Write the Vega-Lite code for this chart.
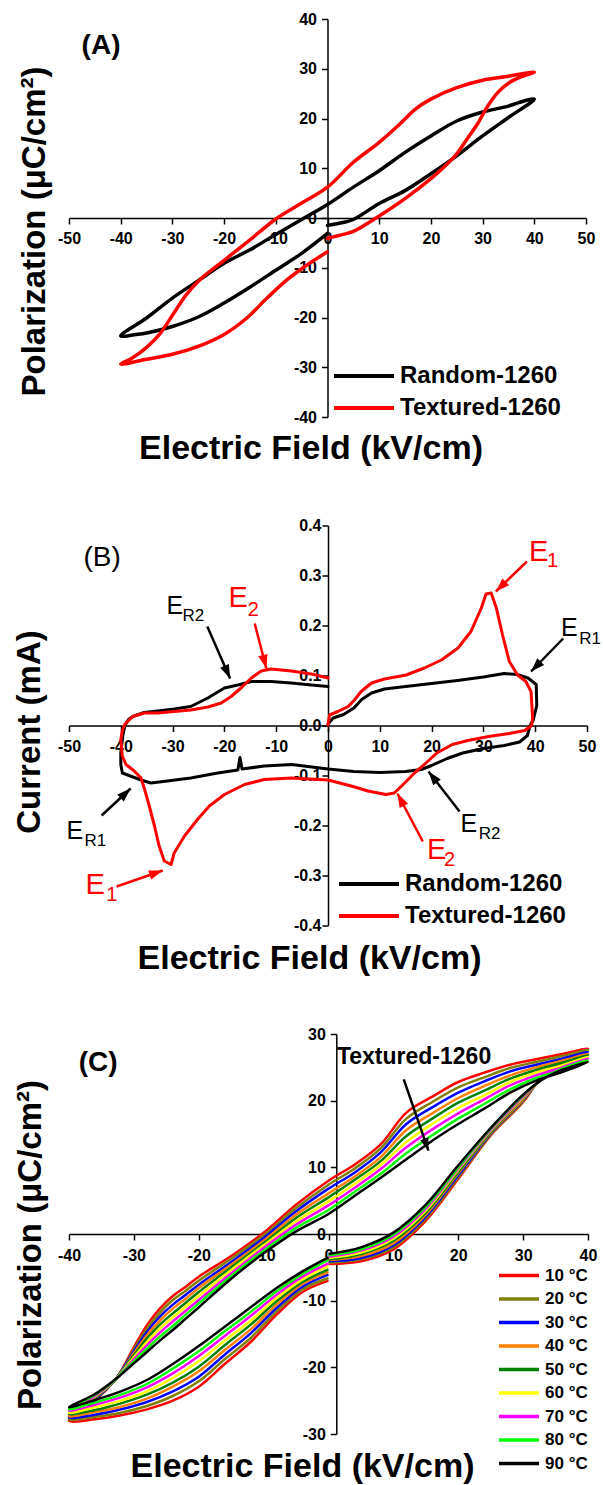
{
"$schema": "https://vega.github.io/schema/vega-lite/v6.json",
"background": "white",
"padding": {"left": 13, "top": 11, "right": 0, "bottom": 0},
"bounds": "flush",
"spacing": 108.5,
"resolve": {"scale": {"color": "independent"}},
"config": {
 "view": {"stroke": null},
 "font": "Liberation Sans",
 "axis": {"domainColor": "black", "domainWidth": 1.5, "tickColor": "black", "tickWidth": 1.5, "labelColor": "black", "labelFont": "Liberation Sans", "labelFontWeight": "bold", "labelFontSize": 16, "titleFont": "Liberation Sans", "titleFontWeight": "bold", "titleFontSize": 34, "titleColor": "black", "grid": false, "labelOverlap": false, "labelFlush": false},
 "legend": {"labelFont": "Liberation Sans", "labelColor": "black", "labelFontWeight": "bold", "labelLimit": 400}
},
"datasets": {
 "pA": [
  {"s":"Random-1260","i":1,"x":0,"y":-1.5},{"s":"Random-1260","i":2,"x":3,"y":-0.9},{"s":"Random-1260","i":3,"x":5,"y":-0.3},{"s":"Random-1260","i":4,"x":10,"y":2.9},{"s":"Random-1260","i":5,"x":15,"y":5.5},{"s":"Random-1260","i":6,"x":20,"y":8.9},{"s":"Random-1260","i":7,"x":25,"y":12.5},{"s":"Random-1260","i":8,"x":30,"y":16.5},{"s":"Random-1260","i":9,"x":35,"y":20.2},{"s":"Random-1260","i":10,"x":40,"y":23.9},{"s":"Random-1260","i":11,"x":37,"y":23.2},{"s":"Random-1260","i":12,"x":35,"y":22.5},{"s":"Random-1260","i":13,"x":30,"y":21.3},{"s":"Random-1260","i":14,"x":25,"y":19.5},{"s":"Random-1260","i":15,"x":20,"y":16.5},{"s":"Random-1260","i":16,"x":15,"y":13.2},{"s":"Random-1260","i":17,"x":10,"y":9.5},{"s":"Random-1260","i":18,"x":5,"y":6.2},{"s":"Random-1260","i":19,"x":0,"y":2.7},{"s":"Random-1260","i":20,"x":-5,"y":-0.3},{"s":"Random-1260","i":21,"x":-10,"y":-3.3},{"s":"Random-1260","i":22,"x":-15,"y":-6.4},{"s":"Random-1260","i":23,"x":-20,"y":-9.1},{"s":"Random-1260","i":24,"x":-25,"y":-12.6},{"s":"Random-1260","i":25,"x":-30,"y":-16.1},{"s":"Random-1260","i":26,"x":-35,"y":-20.1},{"s":"Random-1260","i":27,"x":-40,"y":-23.7},{"s":"Random-1260","i":28,"x":-37,"y":-23.4},{"s":"Random-1260","i":29,"x":-35,"y":-23.1},{"s":"Random-1260","i":30,"x":-30,"y":-21.8},{"s":"Random-1260","i":31,"x":-25,"y":-19.9},{"s":"Random-1260","i":32,"x":-20,"y":-17.1},{"s":"Random-1260","i":33,"x":-15,"y":-13.9},{"s":"Random-1260","i":34,"x":-10,"y":-10.5},{"s":"Random-1260","i":35,"x":-5,"y":-7.1},{"s":"Random-1260","i":36,"x":0,"y":-3.1},
  {"s":"Textured-1260","i":1,"x":0,"y":-4.1},{"s":"Textured-1260","i":2,"x":3,"y":-3.3},{"s":"Textured-1260","i":3,"x":5,"y":-2.7},{"s":"Textured-1260","i":4,"x":10,"y":0.4},{"s":"Textured-1260","i":5,"x":15,"y":3.9},{"s":"Textured-1260","i":6,"x":20,"y":7.9},{"s":"Textured-1260","i":7,"x":23,"y":10.7},{"s":"Textured-1260","i":8,"x":25,"y":12.9},{"s":"Textured-1260","i":9,"x":27,"y":15.9},{"s":"Textured-1260","i":10,"x":29,"y":18.9},{"s":"Textured-1260","i":11,"x":31,"y":22.5},{"s":"Textured-1260","i":12,"x":33,"y":25.3},{"s":"Textured-1260","i":13,"x":35,"y":27.1},{"s":"Textured-1260","i":14,"x":37.5,"y":28.4},{"s":"Textured-1260","i":15,"x":40,"y":29.3},{"s":"Textured-1260","i":16,"x":37,"y":28.9},{"s":"Textured-1260","i":17,"x":35,"y":28.5},{"s":"Textured-1260","i":18,"x":30,"y":27.7},{"s":"Textured-1260","i":19,"x":25,"y":26.2},{"s":"Textured-1260","i":20,"x":20,"y":23.9},{"s":"Textured-1260","i":21,"x":17,"y":21.9},{"s":"Textured-1260","i":22,"x":14,"y":18.9},{"s":"Textured-1260","i":23,"x":10,"y":15.2},{"s":"Textured-1260","i":24,"x":5,"y":11.2},{"s":"Textured-1260","i":25,"x":0,"y":6.2},{"s":"Textured-1260","i":26,"x":-5,"y":3.0},{"s":"Textured-1260","i":27,"x":-10,"y":-0.2},{"s":"Textured-1260","i":28,"x":-15,"y":-4.4},{"s":"Textured-1260","i":29,"x":-20,"y":-8.5},{"s":"Textured-1260","i":30,"x":-24.7,"y":-12.4},{"s":"Textured-1260","i":31,"x":-27.3,"y":-15.4},{"s":"Textured-1260","i":32,"x":-29.9,"y":-19.4},{"s":"Textured-1260","i":33,"x":-32.5,"y":-23.4},{"s":"Textured-1260","i":34,"x":-35.1,"y":-26.1},{"s":"Textured-1260","i":35,"x":-37.7,"y":-28.1},{"s":"Textured-1260","i":36,"x":-40,"y":-29.4},{"s":"Textured-1260","i":37,"x":-35,"y":-28.4},{"s":"Textured-1260","i":38,"x":-30,"y":-27.4},{"s":"Textured-1260","i":39,"x":-25,"y":-25.8},{"s":"Textured-1260","i":40,"x":-20,"y":-23.4},{"s":"Textured-1260","i":41,"x":-15.6,"y":-20.1},{"s":"Textured-1260","i":42,"x":-11.7,"y":-16.1},{"s":"Textured-1260","i":43,"x":-7.8,"y":-12.4},{"s":"Textured-1260","i":44,"x":-3.9,"y":-9.4},{"s":"Textured-1260","i":45,"x":0,"y":-6.8}
 ],
 "pB": [
  {"s":"Random-1260","i":1,"x":0,"y":0.003},{"s":"Random-1260","i":2,"x":1,"y":0.015},{"s":"Random-1260","i":3,"x":3,"y":0.022},{"s":"Random-1260","i":4,"x":5,"y":0.035},{"s":"Random-1260","i":5,"x":6.5,"y":0.052},{"s":"Random-1260","i":6,"x":8.4,"y":0.065},{"s":"Random-1260","i":7,"x":10.9,"y":0.073},{"s":"Random-1260","i":8,"x":15,"y":0.078},{"s":"Random-1260","i":9,"x":20,"y":0.084},{"s":"Random-1260","i":10,"x":25,"y":0.09},{"s":"Random-1260","i":11,"x":30,"y":0.097},{"s":"Random-1260","i":12,"x":34,"y":0.104},{"s":"Random-1260","i":13,"x":36.5,"y":0.102},{"s":"Random-1260","i":14,"x":38.6,"y":0.095},{"s":"Random-1260","i":15,"x":40.2,"y":0.082},{"s":"Random-1260","i":16,"x":40.3,"y":0.04},{"s":"Random-1260","i":17,"x":39.6,"y":0.01},{"s":"Random-1260","i":18,"x":39,"y":0},{"s":"Random-1260","i":19,"x":38.5,"y":-0.02},{"s":"Random-1260","i":20,"x":37,"y":-0.033},{"s":"Random-1260","i":21,"x":34,"y":-0.04},{"s":"Random-1260","i":22,"x":30,"y":-0.046},{"s":"Random-1260","i":23,"x":26,"y":-0.055},{"s":"Random-1260","i":24,"x":23,"y":-0.066},{"s":"Random-1260","i":25,"x":20,"y":-0.08},{"s":"Random-1260","i":26,"x":18,"y":-0.088},{"s":"Random-1260","i":27,"x":15,"y":-0.092},{"s":"Random-1260","i":28,"x":10,"y":-0.094},{"s":"Random-1260","i":29,"x":5,"y":-0.092},{"s":"Random-1260","i":30,"x":0,"y":-0.087},{"s":"Random-1260","i":31,"x":-7,"y":-0.078},{"s":"Random-1260","i":32,"x":-12.3,"y":-0.081},{"s":"Random-1260","i":33,"x":-16.6,"y":-0.087},{"s":"Random-1260","i":34,"x":-17,"y":-0.064},{"s":"Random-1260","i":35,"x":-17.4,"y":-0.089},{"s":"Random-1260","i":36,"x":-21.3,"y":-0.095},{"s":"Random-1260","i":37,"x":-26.5,"y":-0.105},{"s":"Random-1260","i":38,"x":-31,"y":-0.111},{"s":"Random-1260","i":39,"x":-34.2,"y":-0.115},{"s":"Random-1260","i":40,"x":-36.1,"y":-0.109},{"s":"Random-1260","i":41,"x":-38.4,"y":-0.1},{"s":"Random-1260","i":42,"x":-39.7,"y":-0.095},{"s":"Random-1260","i":43,"x":-40,"y":-0.078},{"s":"Random-1260","i":44,"x":-40,"y":-0.055},{"s":"Random-1260","i":45,"x":-39.6,"y":-0.02},{"s":"Random-1260","i":46,"x":-39.2,"y":0},{"s":"Random-1260","i":47,"x":-38.5,"y":0.012},{"s":"Random-1260","i":48,"x":-37.7,"y":0.018},{"s":"Random-1260","i":49,"x":-35.5,"y":0.026},{"s":"Random-1260","i":50,"x":-32.9,"y":0.029},{"s":"Random-1260","i":51,"x":-29.7,"y":0.033},{"s":"Random-1260","i":52,"x":-26.5,"y":0.038},{"s":"Random-1260","i":53,"x":-23.2,"y":0.055},{"s":"Random-1260","i":54,"x":-20,"y":0.075},{"s":"Random-1260","i":55,"x":-17.4,"y":0.081},{"s":"Random-1260","i":56,"x":-14.8,"y":0.088},{"s":"Random-1260","i":57,"x":-11,"y":0.088},{"s":"Random-1260","i":58,"x":-7.1,"y":0.085},{"s":"Random-1260","i":59,"x":-3.2,"y":0.081},{"s":"Random-1260","i":60,"x":0,"y":0.078},
  {"s":"Textured-1260","i":1,"x":0,"y":0.001},{"s":"Textured-1260","i":2,"x":0.3,"y":0.021},{"s":"Textured-1260","i":3,"x":1.9,"y":0.028},{"s":"Textured-1260","i":4,"x":3.9,"y":0.038},{"s":"Textured-1260","i":5,"x":5.1,"y":0.051},{"s":"Textured-1260","i":6,"x":6.4,"y":0.068},{"s":"Textured-1260","i":7,"x":8.4,"y":0.085},{"s":"Textured-1260","i":8,"x":10.9,"y":0.093},{"s":"Textured-1260","i":9,"x":15.1,"y":0.101},{"s":"Textured-1260","i":10,"x":18.6,"y":0.115},{"s":"Textured-1260","i":11,"x":21.9,"y":0.131},{"s":"Textured-1260","i":12,"x":25.1,"y":0.155},{"s":"Textured-1260","i":13,"x":27.6,"y":0.188},{"s":"Textured-1260","i":14,"x":29.6,"y":0.235},{"s":"Textured-1260","i":15,"x":30.5,"y":0.263},{"s":"Textured-1260","i":16,"x":31.5,"y":0.265},{"s":"Textured-1260","i":17,"x":32.5,"y":0.235},{"s":"Textured-1260","i":18,"x":33.7,"y":0.181},{"s":"Textured-1260","i":19,"x":35,"y":0.128},{"s":"Textured-1260","i":20,"x":36.6,"y":0.101},{"s":"Textured-1260","i":21,"x":38.2,"y":0.088},{"s":"Textured-1260","i":22,"x":39.2,"y":0.068},{"s":"Textured-1260","i":23,"x":39.5,"y":0.015},{"s":"Textured-1260","i":24,"x":39.3,"y":0},{"s":"Textured-1260","i":25,"x":38,"y":-0.01},{"s":"Textured-1260","i":26,"x":35,"y":-0.016},{"s":"Textured-1260","i":27,"x":31,"y":-0.022},{"s":"Textured-1260","i":28,"x":27,"y":-0.03},{"s":"Textured-1260","i":29,"x":24,"y":-0.038},{"s":"Textured-1260","i":30,"x":21,"y":-0.055},{"s":"Textured-1260","i":31,"x":18.6,"y":-0.078},{"s":"Textured-1260","i":32,"x":16.7,"y":-0.095},{"s":"Textured-1260","i":33,"x":14.8,"y":-0.115},{"s":"Textured-1260","i":34,"x":12.8,"y":-0.135},{"s":"Textured-1260","i":35,"x":11.2,"y":-0.138},{"s":"Textured-1260","i":36,"x":7.7,"y":-0.131},{"s":"Textured-1260","i":37,"x":4.5,"y":-0.121},{"s":"Textured-1260","i":38,"x":0,"y":-0.109},{"s":"Textured-1260","i":39,"x":-7.1,"y":-0.105},{"s":"Textured-1260","i":40,"x":-12.3,"y":-0.108},{"s":"Textured-1260","i":41,"x":-16.1,"y":-0.118},{"s":"Textured-1260","i":42,"x":-20,"y":-0.138},{"s":"Textured-1260","i":43,"x":-22.9,"y":-0.161},{"s":"Textured-1260","i":44,"x":-25.2,"y":-0.188},{"s":"Textured-1260","i":45,"x":-27.7,"y":-0.221},{"s":"Textured-1260","i":46,"x":-29.7,"y":-0.255},{"s":"Textured-1260","i":47,"x":-30.3,"y":-0.278},{"s":"Textured-1260","i":48,"x":-31.6,"y":-0.271},{"s":"Textured-1260","i":49,"x":-32.6,"y":-0.241},{"s":"Textured-1260","i":50,"x":-33.5,"y":-0.201},{"s":"Textured-1260","i":51,"x":-34.5,"y":-0.161},{"s":"Textured-1260","i":52,"x":-35.4,"y":-0.128},{"s":"Textured-1260","i":53,"x":-36.1,"y":-0.105},{"s":"Textured-1260","i":54,"x":-37.4,"y":-0.091},{"s":"Textured-1260","i":55,"x":-39,"y":-0.078},{"s":"Textured-1260","i":56,"x":-39.7,"y":-0.061},{"s":"Textured-1260","i":57,"x":-40,"y":-0.028},{"s":"Textured-1260","i":58,"x":-39.7,"y":-0.01},{"s":"Textured-1260","i":59,"x":-39.2,"y":0.003},{"s":"Textured-1260","i":60,"x":-38.7,"y":0.008},{"s":"Textured-1260","i":61,"x":-37.7,"y":0.018},{"s":"Textured-1260","i":62,"x":-35.5,"y":0.025},{"s":"Textured-1260","i":63,"x":-32.9,"y":0.025},{"s":"Textured-1260","i":64,"x":-29.7,"y":0.028},{"s":"Textured-1260","i":65,"x":-26.5,"y":0.031},{"s":"Textured-1260","i":66,"x":-23.2,"y":0.037},{"s":"Textured-1260","i":67,"x":-20.6,"y":0.045},{"s":"Textured-1260","i":68,"x":-18.7,"y":0.058},{"s":"Textured-1260","i":69,"x":-16.8,"y":0.075},{"s":"Textured-1260","i":70,"x":-14.8,"y":0.095},{"s":"Textured-1260","i":71,"x":-12.9,"y":0.109},{"s":"Textured-1260","i":72,"x":-11,"y":0.113},{"s":"Textured-1260","i":73,"x":-7.1,"y":0.109},{"s":"Textured-1260","i":74,"x":-3.2,"y":0.103},{"s":"Textured-1260","i":75,"x":0,"y":0.095}
 ],
 "pC": [
  {"t":"10 °C","i":1,"x":0,"y":-4.5},{"t":"10 °C","i":2,"x":5,"y":-4.1},{"t":"10 °C","i":3,"x":10,"y":-2.3},{"t":"10 °C","i":4,"x":15,"y":2.0},{"t":"10 °C","i":5,"x":20,"y":8.3},{"t":"10 °C","i":6,"x":25,"y":14.8},{"t":"10 °C","i":7,"x":30,"y":19.8},{"t":"10 °C","i":8,"x":33,"y":23.8},{"t":"10 °C","i":9,"x":36,"y":26.0},{"t":"10 °C","i":10,"x":40,"y":27.8},
  {"t":"10 °C","i":11,"x":36,"y":27.0},{"t":"10 °C","i":12,"x":32,"y":26.2},{"t":"10 °C","i":13,"x":28,"y":25.4},{"t":"10 °C","i":14,"x":24,"y":24.2},{"t":"10 °C","i":15,"x":20,"y":22.8},{"t":"10 °C","i":16,"x":16,"y":20.6},{"t":"10 °C","i":17,"x":12,"y":18.2},{"t":"10 °C","i":18,"x":8,"y":13.4},{"t":"10 °C","i":19,"x":4,"y":10.4},{"t":"10 °C","i":20,"x":0,"y":8.0},{"t":"10 °C","i":21,"x":-5,"y":4.4},{"t":"10 °C","i":22,"x":-10,"y":0.2},{"t":"10 °C","i":23,"x":-15,"y":-3.3},{"t":"10 °C","i":24,"x":-20,"y":-6.4},{"t":"10 °C","i":25,"x":-22,"y":-7.9},{"t":"10 °C","i":26,"x":-24,"y":-9.3},{"t":"10 °C","i":27,"x":-26,"y":-11.2},{"t":"10 °C","i":28,"x":-28,"y":-13.7},{"t":"10 °C","i":29,"x":-30,"y":-17.0},{"t":"10 °C","i":30,"x":-32,"y":-20.6},{"t":"10 °C","i":31,"x":-33,"y":-22.0},{"t":"10 °C","i":32,"x":-36,"y":-25.0},{"t":"10 °C","i":33,"x":-40,"y":-28.0},
  {"t":"10 °C","i":34,"x":-36,"y":-27.8},{"t":"10 °C","i":35,"x":-32,"y":-27.2},{"t":"10 °C","i":36,"x":-28,"y":-26.3},{"t":"10 °C","i":37,"x":-24,"y":-25.0},{"t":"10 °C","i":38,"x":-20,"y":-22.9},{"t":"10 °C","i":39,"x":-16,"y":-19.5},{"t":"10 °C","i":40,"x":-12,"y":-16.2},{"t":"10 °C","i":41,"x":-8,"y":-12.1},{"t":"10 °C","i":42,"x":-4,"y":-8.7},{"t":"10 °C","i":43,"x":0,"y":-7.0},

  {"t":"20 °C","i":1,"x":0,"y":-4.3},{"t":"20 °C","i":2,"x":5,"y":-3.8},{"t":"20 °C","i":3,"x":10,"y":-2.0},{"t":"20 °C","i":4,"x":15,"y":2.3},{"t":"20 °C","i":5,"x":20,"y":8.5},{"t":"20 °C","i":6,"x":25,"y":14.9},{"t":"20 °C","i":7,"x":30,"y":19.9},{"t":"20 °C","i":8,"x":33,"y":23.7},{"t":"20 °C","i":9,"x":36,"y":25.8},{"t":"20 °C","i":10,"x":40,"y":27.6},
  {"t":"20 °C","i":11,"x":36,"y":26.7},{"t":"20 °C","i":12,"x":32,"y":25.8},{"t":"20 °C","i":13,"x":28,"y":24.9},{"t":"20 °C","i":14,"x":24,"y":23.5},{"t":"20 °C","i":15,"x":20,"y":22.0},{"t":"20 °C","i":16,"x":16,"y":19.8},{"t":"20 °C","i":17,"x":12,"y":17.3},{"t":"20 °C","i":18,"x":8,"y":12.8},{"t":"20 °C","i":19,"x":4,"y":9.8},{"t":"20 °C","i":20,"x":0,"y":7.4},{"t":"20 °C","i":21,"x":-5,"y":3.9},{"t":"20 °C","i":22,"x":-10,"y":-0.2},{"t":"20 °C","i":23,"x":-15,"y":-3.7},{"t":"20 °C","i":24,"x":-20,"y":-7.0},{"t":"20 °C","i":25,"x":-22,"y":-8.5},{"t":"20 °C","i":26,"x":-24,"y":-9.9},{"t":"20 °C","i":27,"x":-26,"y":-11.8},{"t":"20 °C","i":28,"x":-28,"y":-14.2},{"t":"20 °C","i":29,"x":-30,"y":-17.3},{"t":"20 °C","i":30,"x":-32,"y":-20.7},{"t":"20 °C","i":31,"x":-33,"y":-22.0},{"t":"20 °C","i":32,"x":-36,"y":-24.9},{"t":"20 °C","i":33,"x":-40,"y":-27.8},
  {"t":"20 °C","i":34,"x":-36,"y":-27.4},{"t":"20 °C","i":35,"x":-32,"y":-26.8},{"t":"20 °C","i":36,"x":-28,"y":-25.8},{"t":"20 °C","i":37,"x":-24,"y":-24.3},{"t":"20 °C","i":38,"x":-20,"y":-22.1},{"t":"20 °C","i":39,"x":-16,"y":-18.8},{"t":"20 °C","i":40,"x":-12,"y":-15.6},{"t":"20 °C","i":41,"x":-8,"y":-11.6},{"t":"20 °C","i":42,"x":-4,"y":-8.3},{"t":"20 °C","i":43,"x":0,"y":-6.6},

  {"t":"30 °C","i":1,"x":0,"y":-4.1},{"t":"30 °C","i":2,"x":5,"y":-3.6},{"t":"30 °C","i":3,"x":10,"y":-1.7},{"t":"30 °C","i":4,"x":15,"y":2.6},{"t":"30 °C","i":5,"x":20,"y":8.8},{"t":"30 °C","i":6,"x":25,"y":15.1},{"t":"30 °C","i":7,"x":30,"y":20.1},{"t":"30 °C","i":8,"x":33,"y":23.7},{"t":"30 °C","i":9,"x":36,"y":25.7},{"t":"30 °C","i":10,"x":40,"y":27.3},
  {"t":"30 °C","i":11,"x":36,"y":26.3},{"t":"30 °C","i":12,"x":32,"y":25.4},{"t":"30 °C","i":13,"x":28,"y":24.4},{"t":"30 °C","i":14,"x":24,"y":22.9},{"t":"30 °C","i":15,"x":20,"y":21.2},{"t":"30 °C","i":16,"x":16,"y":19.0},{"t":"30 °C","i":17,"x":12,"y":16.5},{"t":"30 °C","i":18,"x":8,"y":12.2},{"t":"30 °C","i":19,"x":4,"y":9.2},{"t":"30 °C","i":20,"x":0,"y":6.8},{"t":"30 °C","i":21,"x":-5,"y":3.4},{"t":"30 °C","i":22,"x":-10,"y":-0.6},{"t":"30 °C","i":23,"x":-15,"y":-4.2},{"t":"30 °C","i":24,"x":-20,"y":-7.6},{"t":"30 °C","i":25,"x":-22,"y":-9.1},{"t":"30 °C","i":26,"x":-24,"y":-10.6},{"t":"30 °C","i":27,"x":-26,"y":-12.4},{"t":"30 °C","i":28,"x":-28,"y":-14.7},{"t":"30 °C","i":29,"x":-30,"y":-17.6},{"t":"30 °C","i":30,"x":-32,"y":-20.7},{"t":"30 °C","i":31,"x":-33,"y":-22.0},{"t":"30 °C","i":32,"x":-36,"y":-24.8},{"t":"30 °C","i":33,"x":-40,"y":-27.5},
  {"t":"30 °C","i":34,"x":-36,"y":-27.1},{"t":"30 °C","i":35,"x":-32,"y":-26.3},{"t":"30 °C","i":36,"x":-28,"y":-25.2},{"t":"30 °C","i":37,"x":-24,"y":-23.6},{"t":"30 °C","i":38,"x":-20,"y":-21.4},{"t":"30 °C","i":39,"x":-16,"y":-18.1},{"t":"30 °C","i":40,"x":-12,"y":-14.9},{"t":"30 °C","i":41,"x":-8,"y":-11.1},{"t":"30 °C","i":42,"x":-4,"y":-7.9},{"t":"30 °C","i":43,"x":0,"y":-6.1},

  {"t":"40 °C","i":1,"x":0,"y":-3.9},{"t":"40 °C","i":2,"x":5,"y":-3.3},{"t":"40 °C","i":3,"x":10,"y":-1.4},{"t":"40 °C","i":4,"x":15,"y":2.9},{"t":"40 °C","i":5,"x":20,"y":9.1},{"t":"40 °C","i":6,"x":25,"y":15.2},{"t":"40 °C","i":7,"x":30,"y":20.2},{"t":"40 °C","i":8,"x":33,"y":23.6},{"t":"40 °C","i":9,"x":36,"y":25.5},{"t":"40 °C","i":10,"x":40,"y":27.0},
  {"t":"40 °C","i":11,"x":36,"y":26.0},{"t":"40 °C","i":12,"x":32,"y":25.0},{"t":"40 °C","i":13,"x":28,"y":23.8},{"t":"40 °C","i":14,"x":24,"y":22.2},{"t":"40 °C","i":15,"x":20,"y":20.4},{"t":"40 °C","i":16,"x":16,"y":18.1},{"t":"40 °C","i":17,"x":12,"y":15.6},{"t":"40 °C","i":18,"x":8,"y":11.5},{"t":"40 °C","i":19,"x":4,"y":8.6},{"t":"40 °C","i":20,"x":0,"y":6.1},{"t":"40 °C","i":21,"x":-5,"y":2.9},{"t":"40 °C","i":22,"x":-10,"y":-1.0},{"t":"40 °C","i":23,"x":-15,"y":-4.6},{"t":"40 °C","i":24,"x":-20,"y":-8.1},{"t":"40 °C","i":25,"x":-22,"y":-9.7},{"t":"40 °C","i":26,"x":-24,"y":-11.2},{"t":"40 °C","i":27,"x":-26,"y":-13.0},{"t":"40 °C","i":28,"x":-28,"y":-15.2},{"t":"40 °C","i":29,"x":-30,"y":-17.9},{"t":"40 °C","i":30,"x":-32,"y":-20.8},{"t":"40 °C","i":31,"x":-33,"y":-22.0},{"t":"40 °C","i":32,"x":-36,"y":-24.6},{"t":"40 °C","i":33,"x":-40,"y":-27.3},
  {"t":"40 °C","i":34,"x":-36,"y":-26.7},{"t":"40 °C","i":35,"x":-32,"y":-25.9},{"t":"40 °C","i":36,"x":-28,"y":-24.7},{"t":"40 °C","i":37,"x":-24,"y":-22.9},{"t":"40 °C","i":38,"x":-20,"y":-20.6},{"t":"40 °C","i":39,"x":-16,"y":-17.4},{"t":"40 °C","i":40,"x":-12,"y":-14.3},{"t":"40 °C","i":41,"x":-8,"y":-10.6},{"t":"40 °C","i":42,"x":-4,"y":-7.5},{"t":"40 °C","i":43,"x":0,"y":-5.7},

  {"t":"50 °C","i":1,"x":0,"y":-3.8},{"t":"50 °C","i":2,"x":5,"y":-3.0},{"t":"50 °C","i":3,"x":10,"y":-1.0},{"t":"50 °C","i":4,"x":15,"y":3.2},{"t":"50 °C","i":5,"x":20,"y":9.3},{"t":"50 °C","i":6,"x":25,"y":15.3},{"t":"50 °C","i":7,"x":30,"y":20.4},{"t":"50 °C","i":8,"x":33,"y":23.5},{"t":"50 °C","i":9,"x":36,"y":25.3},{"t":"50 °C","i":10,"x":40,"y":26.8},
  {"t":"50 °C","i":11,"x":36,"y":25.7},{"t":"50 °C","i":12,"x":32,"y":24.6},{"t":"50 °C","i":13,"x":28,"y":23.3},{"t":"50 °C","i":14,"x":24,"y":21.5},{"t":"50 °C","i":15,"x":20,"y":19.7},{"t":"50 °C","i":16,"x":16,"y":17.3},{"t":"50 °C","i":17,"x":12,"y":14.7},{"t":"50 °C","i":18,"x":8,"y":10.9},{"t":"50 °C","i":19,"x":4,"y":8.1},{"t":"50 °C","i":20,"x":0,"y":5.5},{"t":"50 °C","i":21,"x":-5,"y":2.4},{"t":"50 °C","i":22,"x":-10,"y":-1.4},{"t":"50 °C","i":23,"x":-15,"y":-5.0},{"t":"50 °C","i":24,"x":-20,"y":-8.7},{"t":"50 °C","i":25,"x":-22,"y":-10.3},{"t":"50 °C","i":26,"x":-24,"y":-11.9},{"t":"50 °C","i":27,"x":-26,"y":-13.6},{"t":"50 °C","i":28,"x":-28,"y":-15.7},{"t":"50 °C","i":29,"x":-30,"y":-18.2},{"t":"50 °C","i":30,"x":-32,"y":-20.8},{"t":"50 °C","i":31,"x":-33,"y":-22.0},{"t":"50 °C","i":32,"x":-36,"y":-24.5},{"t":"50 °C","i":33,"x":-40,"y":-27.0},
  {"t":"50 °C","i":34,"x":-36,"y":-26.4},{"t":"50 °C","i":35,"x":-32,"y":-25.4},{"t":"50 °C","i":36,"x":-28,"y":-24.1},{"t":"50 °C","i":37,"x":-24,"y":-22.3},{"t":"50 °C","i":38,"x":-20,"y":-19.9},{"t":"50 °C","i":39,"x":-16,"y":-16.7},{"t":"50 °C","i":40,"x":-12,"y":-13.6},{"t":"50 °C","i":41,"x":-8,"y":-10.1},{"t":"50 °C","i":42,"x":-4,"y":-7.2},{"t":"50 °C","i":43,"x":0,"y":-5.3},

  {"t":"60 °C","i":1,"x":0,"y":-3.6},{"t":"60 °C","i":2,"x":5,"y":-2.8},{"t":"60 °C","i":3,"x":10,"y":-0.7},{"t":"60 °C","i":4,"x":15,"y":3.5},{"t":"60 °C","i":5,"x":20,"y":9.6},{"t":"60 °C","i":6,"x":25,"y":15.5},{"t":"60 °C","i":7,"x":30,"y":20.5},{"t":"60 °C","i":8,"x":33,"y":23.4},{"t":"60 °C","i":9,"x":36,"y":25.1},{"t":"60 °C","i":10,"x":40,"y":26.6},
  {"t":"60 °C","i":11,"x":36,"y":25.3},{"t":"60 °C","i":12,"x":32,"y":24.2},{"t":"60 °C","i":13,"x":28,"y":22.8},{"t":"60 °C","i":14,"x":24,"y":20.8},{"t":"60 °C","i":15,"x":20,"y":18.9},{"t":"60 °C","i":16,"x":16,"y":16.5},{"t":"60 °C","i":17,"x":12,"y":13.8},{"t":"60 °C","i":18,"x":8,"y":10.3},{"t":"60 °C","i":19,"x":4,"y":7.5},{"t":"60 °C","i":20,"x":0,"y":4.9},{"t":"60 °C","i":21,"x":-5,"y":1.9},{"t":"60 °C","i":22,"x":-10,"y":-1.7},{"t":"60 °C","i":23,"x":-15,"y":-5.4},{"t":"60 °C","i":24,"x":-20,"y":-9.3},{"t":"60 °C","i":25,"x":-22,"y":-10.9},{"t":"60 °C","i":26,"x":-24,"y":-12.5},{"t":"60 °C","i":27,"x":-26,"y":-14.2},{"t":"60 °C","i":28,"x":-28,"y":-16.2},{"t":"60 °C","i":29,"x":-30,"y":-18.5},{"t":"60 °C","i":30,"x":-32,"y":-20.9},{"t":"60 °C","i":31,"x":-33,"y":-22.0},{"t":"60 °C","i":32,"x":-36,"y":-24.4},{"t":"60 °C","i":33,"x":-40,"y":-26.8},
  {"t":"60 °C","i":34,"x":-36,"y":-26.0},{"t":"60 °C","i":35,"x":-32,"y":-25.0},{"t":"60 °C","i":36,"x":-28,"y":-23.6},{"t":"60 °C","i":37,"x":-24,"y":-21.6},{"t":"60 °C","i":38,"x":-20,"y":-19.1},{"t":"60 °C","i":39,"x":-16,"y":-16.0},{"t":"60 °C","i":40,"x":-12,"y":-13.0},{"t":"60 °C","i":41,"x":-8,"y":-9.6},{"t":"60 °C","i":42,"x":-4,"y":-6.8},{"t":"60 °C","i":43,"x":0,"y":-4.8},

  {"t":"70 °C","i":1,"x":0,"y":-3.4},{"t":"70 °C","i":2,"x":5,"y":-2.5},{"t":"70 °C","i":3,"x":10,"y":-0.4},{"t":"70 °C","i":4,"x":15,"y":3.8},{"t":"70 °C","i":5,"x":20,"y":9.8},{"t":"70 °C","i":6,"x":25,"y":15.6},{"t":"70 °C","i":7,"x":30,"y":20.6},{"t":"70 °C","i":8,"x":33,"y":23.4},{"t":"70 °C","i":9,"x":36,"y":25.0},{"t":"70 °C","i":10,"x":40,"y":26.3},
  {"t":"70 °C","i":11,"x":36,"y":25.0},{"t":"70 °C","i":12,"x":32,"y":23.8},{"t":"70 °C","i":13,"x":28,"y":22.3},{"t":"70 °C","i":14,"x":24,"y":20.2},{"t":"70 °C","i":15,"x":20,"y":18.1},{"t":"70 °C","i":16,"x":16,"y":15.7},{"t":"70 °C","i":17,"x":12,"y":13.0},{"t":"70 °C","i":18,"x":8,"y":9.7},{"t":"70 °C","i":19,"x":4,"y":6.9},{"t":"70 °C","i":20,"x":0,"y":4.3},{"t":"70 °C","i":21,"x":-5,"y":1.4},{"t":"70 °C","i":22,"x":-10,"y":-2.1},{"t":"70 °C","i":23,"x":-15,"y":-5.9},{"t":"70 °C","i":24,"x":-20,"y":-9.9},{"t":"70 °C","i":25,"x":-22,"y":-11.5},{"t":"70 °C","i":26,"x":-24,"y":-13.1},{"t":"70 °C","i":27,"x":-26,"y":-14.8},{"t":"70 °C","i":28,"x":-28,"y":-16.7},{"t":"70 °C","i":29,"x":-30,"y":-18.8},{"t":"70 °C","i":30,"x":-32,"y":-21.0},{"t":"70 °C","i":31,"x":-33,"y":-22.0},{"t":"70 °C","i":32,"x":-36,"y":-24.3},{"t":"70 °C","i":33,"x":-40,"y":-26.5},
  {"t":"70 °C","i":34,"x":-36,"y":-25.6},{"t":"70 °C","i":35,"x":-32,"y":-24.5},{"t":"70 °C","i":36,"x":-28,"y":-23.0},{"t":"70 °C","i":37,"x":-24,"y":-20.9},{"t":"70 °C","i":38,"x":-20,"y":-18.3},{"t":"70 °C","i":39,"x":-16,"y":-15.3},{"t":"70 °C","i":40,"x":-12,"y":-12.3},{"t":"70 °C","i":41,"x":-8,"y":-9.1},{"t":"70 °C","i":42,"x":-4,"y":-6.4},{"t":"70 °C","i":43,"x":0,"y":-4.4},

  {"t":"80 °C","i":1,"x":0,"y":-3.2},{"t":"80 °C","i":2,"x":5,"y":-2.3},{"t":"80 °C","i":3,"x":10,"y":-0.1},{"t":"80 °C","i":4,"x":15,"y":4.1},{"t":"80 °C","i":5,"x":20,"y":10.0},{"t":"80 °C","i":6,"x":25,"y":15.8},{"t":"80 °C","i":7,"x":30,"y":20.8},{"t":"80 °C","i":8,"x":33,"y":23.3},{"t":"80 °C","i":9,"x":36,"y":24.8},{"t":"80 °C","i":10,"x":40,"y":26.1},
  {"t":"80 °C","i":11,"x":36,"y":24.6},{"t":"80 °C","i":12,"x":32,"y":23.4},{"t":"80 °C","i":13,"x":28,"y":21.7},{"t":"80 °C","i":14,"x":24,"y":19.5},{"t":"80 °C","i":15,"x":20,"y":17.3},{"t":"80 °C","i":16,"x":16,"y":14.8},{"t":"80 °C","i":17,"x":12,"y":12.1},{"t":"80 °C","i":18,"x":8,"y":9.0},{"t":"80 °C","i":19,"x":4,"y":6.3},{"t":"80 °C","i":20,"x":0,"y":3.6},{"t":"80 °C","i":21,"x":-5,"y":0.9},{"t":"80 °C","i":22,"x":-10,"y":-2.5},{"t":"80 °C","i":23,"x":-15,"y":-6.3},{"t":"80 °C","i":24,"x":-20,"y":-10.4},{"t":"80 °C","i":25,"x":-22,"y":-12.1},{"t":"80 °C","i":26,"x":-24,"y":-13.8},{"t":"80 °C","i":27,"x":-26,"y":-15.4},{"t":"80 °C","i":28,"x":-28,"y":-17.2},{"t":"80 °C","i":29,"x":-30,"y":-19.1},{"t":"80 °C","i":30,"x":-32,"y":-21.0},{"t":"80 °C","i":31,"x":-33,"y":-22.0},{"t":"80 °C","i":32,"x":-36,"y":-24.1},{"t":"80 °C","i":33,"x":-40,"y":-26.3},
  {"t":"80 °C","i":34,"x":-36,"y":-25.3},{"t":"80 °C","i":35,"x":-32,"y":-24.1},{"t":"80 °C","i":36,"x":-28,"y":-22.5},{"t":"80 °C","i":37,"x":-24,"y":-20.2},{"t":"80 °C","i":38,"x":-20,"y":-17.6},{"t":"80 °C","i":39,"x":-16,"y":-14.6},{"t":"80 °C","i":40,"x":-12,"y":-11.7},{"t":"80 °C","i":41,"x":-8,"y":-8.6},{"t":"80 °C","i":42,"x":-4,"y":-6.0},{"t":"80 °C","i":43,"x":0,"y":-3.9},

  {"t":"90 °C","i":1,"x":0,"y":-3.0},{"t":"90 °C","i":2,"x":5,"y":-2.0},{"t":"90 °C","i":3,"x":10,"y":0.2},{"t":"90 °C","i":4,"x":15,"y":4.4},{"t":"90 °C","i":5,"x":20,"y":10.3},{"t":"90 °C","i":6,"x":25,"y":15.9},{"t":"90 °C","i":7,"x":30,"y":20.9},{"t":"90 °C","i":8,"x":33,"y":23.2},{"t":"90 °C","i":9,"x":36,"y":24.6},{"t":"90 °C","i":10,"x":40,"y":25.8},
  {"t":"90 °C","i":11,"x":36,"y":24.3},{"t":"90 °C","i":12,"x":32,"y":23.0},{"t":"90 °C","i":13,"x":28,"y":21.2},{"t":"90 °C","i":14,"x":24,"y":18.8},{"t":"90 °C","i":15,"x":20,"y":16.5},{"t":"90 °C","i":16,"x":16,"y":14.0},{"t":"90 °C","i":17,"x":12,"y":11.2},{"t":"90 °C","i":18,"x":8,"y":8.4},{"t":"90 °C","i":19,"x":4,"y":5.7},{"t":"90 °C","i":20,"x":0,"y":3.0},{"t":"90 °C","i":21,"x":-5,"y":0.4},{"t":"90 °C","i":22,"x":-10,"y":-2.9},{"t":"90 °C","i":23,"x":-15,"y":-6.7},{"t":"90 °C","i":24,"x":-20,"y":-11.0},{"t":"90 °C","i":25,"x":-22,"y":-12.7},{"t":"90 °C","i":26,"x":-24,"y":-14.4},{"t":"90 °C","i":27,"x":-26,"y":-16.0},{"t":"90 °C","i":28,"x":-28,"y":-17.7},{"t":"90 °C","i":29,"x":-30,"y":-19.4},{"t":"90 °C","i":30,"x":-32,"y":-21.1},{"t":"90 °C","i":31,"x":-33,"y":-21.9},{"t":"90 °C","i":32,"x":-36,"y":-24.0},{"t":"90 °C","i":33,"x":-40,"y":-26.0},
  {"t":"90 °C","i":34,"x":-36,"y":-24.9},{"t":"90 °C","i":35,"x":-32,"y":-23.6},{"t":"90 °C","i":36,"x":-28,"y":-21.9},{"t":"90 °C","i":37,"x":-24,"y":-19.5},{"t":"90 °C","i":38,"x":-20,"y":-16.8},{"t":"90 °C","i":39,"x":-16,"y":-13.9},{"t":"90 °C","i":40,"x":-12,"y":-11.0},{"t":"90 °C","i":41,"x":-8,"y":-8.1},{"t":"90 °C","i":42,"x":-4,"y":-5.6},{"t":"90 °C","i":43,"x":0,"y":-3.5}
 ],
 "annB": [
  {"lab":"ER2","e":"E","sub":"R2","tx":-31.2,"ty":0.224,"sx":-28.1,"sy":0.21,"ax":-23.3,"ay":0.198,"ax2":-18.9,"ay2":0.094},
  {"lab":"E2","e":"E","sub":"2","tx":-19.2,"ty":0.238,"sx":-15.5,"sy":0.22,"ax":-14.15,"ay":0.204,"ax2":-11.9,"ay2":0.114},
  {"lab":"E1","e":"E","sub":"1","tx":38.8,"ty":0.33,"sx":42.3,"sy":0.318,"ax":38.4,"ay":0.328,"ax2":32.4,"ay2":0.268},
  {"lab":"ER1","e":"E","sub":"R1","tx":45.0,"ty":0.18,"sx":48.5,"sy":0.164,"ax":45.4,"ay":0.174,"ax2":39.2,"ay2":0.108},
  {"lab":"ER1","e":"E","sub":"R1","tx":-50.5,"ty":-0.226,"sx":-47.0,"sy":-0.24,"ax":-43.7,"ay":-0.18,"ax2":-38.1,"ay2":-0.126},
  {"lab":"E1","e":"E","sub":"1","tx":-46.8,"ty":-0.336,"sx":-42.8,"sy":-0.35,"ax":-40.8,"ay":-0.322,"ax2":-31.9,"ay2":-0.29},
  {"lab":"ER2","e":"E","sub":"R2","tx":25.6,"ty":-0.212,"sx":29.1,"sy":-0.226,"ax":25.4,"ay":-0.172,"ax2":19.4,"ay2":-0.092},
  {"lab":"E2","e":"E","sub":"2","tx":19.1,"ty":-0.266,"sx":22.4,"sy":-0.28,"ax":18.3,"ay":-0.232,"ax2":13.4,"ay2":-0.136}
 ],
 "annC": [
  {"lab":"Textured-1260","tx":1.3,"ty":25.5,"ax":11.6,"ay":23.2,"ax2":15.4,"ay2":12.5}
 ]
},
"vconcat": [
 {
  "width": 517, "height": 398,
  "layer": [
   {
    "data": {"name": "pA"},
    "mark": {"type": "line", "strokeWidth": 3.5, "strokeJoin": "round", "strokeCap": "round", "interpolate": "catmull-rom"},
    "encoding": {
     "x": {"field": "x", "type": "quantitative", "scale": {"domain": [-50, 50]},
      "axis": {"title": "Electric Field (kV/cm)", "values": [-50,-45,-40,-35,-30,-25,-20,-15,-10,-5,0,5,10,15,20,25,30,35,40,45,50], "labelExpr": "datum.value % 10 == 0 ? '' + datum.value : ''", "tickSize": {"condition": {"test": "datum.value % 10 == 0", "value": 6}, "value": 3}, "offset": -199, "labelPadding": 6, "titleX": 241.5, "titleY": 230, "titleBaseline": "middle", "titleAlign": "center"}},
     "y": {"field": "y", "type": "quantitative", "scale": {"domain": [-40, 40]},
      "axis": {"title": "Polarization  (μC/cm²)", "values": [-40,-35,-30,-25,-20,-15,-10,-5,0,5,10,15,20,25,30,35,40], "labelExpr": "datum.value % 10 == 0 ? '' + datum.value : ''", "tickSize": {"condition": {"test": "datum.value % 10 == 0", "value": 6}, "value": 3}, "offset": -258.5, "labelPadding": 5, "titleX": -293.5, "titleY": 212, "titleBaseline": "middle", "titleAlign": "center", "titleAngle": -90, "titleFontSize": 33}},
     "color": {"field": "s", "type": "nominal", "scale": {"domain": ["Random-1260", "Textured-1260"], "range": ["#000000", "#ff0000"]},
      "legend": {"orient": "none", "legendX": 263, "legendY": 347, "title": null, "symbolType": "stroke", "symbolSize": 3600, "symbolStrokeWidth": 4, "labelFontSize": 24, "clipHeight": 20, "rowPadding": 8, "labelOffset": 4}},
     "order": {"field": "i", "type": "quantitative"}
    }
   },
   {
    "data": {"values": [{"lab": "(A)", "x": -43.8, "y": 34.5}]},
    "mark": {"type": "text", "fontSize": 28, "fontWeight": "bold", "align": "center", "baseline": "middle", "color": "black"},
    "encoding": {
     "x": {"field": "x", "type": "quantitative", "scale": {"domain": [-50, 50]}},
     "y": {"field": "y", "type": "quantitative", "scale": {"domain": [-40, 40]}},
     "text": {"field": "lab"}
    }
   }
  ]
 },
 {
  "width": 518, "height": 400,
  "layer": [
   {
    "data": {"name": "pB"},
    "mark": {"type": "line", "strokeWidth": 3, "strokeJoin": "round", "strokeCap": "round"},
    "encoding": {
     "x": {"field": "x", "type": "quantitative", "scale": {"domain": [-50, 50]},
      "axis": {"title": "Electric Field (kV/cm)", "values": [-50,-45,-40,-35,-30,-25,-20,-15,-10,-5,0,5,10,15,20,25,30,35,40,45,50], "labelExpr": "datum.value % 10 == 0 ? '' + datum.value : ''", "tickSize": {"condition": {"test": "datum.value % 10 == 0", "value": 6}, "value": 3}, "offset": -200, "labelPadding": 7, "titleX": 240, "titleY": 233, "titleBaseline": "middle", "titleAlign": "center"}},
     "y": {"field": "y", "type": "quantitative", "scale": {"domain": [-0.4, 0.4]},
      "axis": {"title": "Current (mA)", "values": [-0.4,-0.35,-0.3,-0.25,-0.2,-0.15,-0.1,-0.05,0,0.05,0.1,0.15,0.2,0.25,0.3,0.35,0.4], "labelExpr": "abs(round(datum.value*100)) % 10 == 0 ? replace(format(datum.value, '.1f'), '\u2212', '-') : ''", "tickSize": {"condition": {"test": "abs(round(datum.value*100)) % 10 == 0", "value": 6}, "value": 3}, "offset": -259, "labelPadding": 1, "titleX": -299, "titleY": 206, "titleBaseline": "middle", "titleAlign": "center", "titleAngle": -90, "titleFontSize": 33}},
     "color": {"field": "s", "type": "nominal", "scale": {"domain": ["Random-1260", "Textured-1260"], "range": ["#000000", "#ff0000"]},
      "legend": {"orient": "none", "legendX": 268, "legendY": 348.5, "title": null, "symbolType": "stroke", "symbolSize": 3600, "symbolStrokeWidth": 4, "labelFontSize": 24, "clipHeight": 20, "rowPadding": 8, "labelOffset": 4}},
     "order": {"field": "i", "type": "quantitative"}
    }
   },
   {
    "data": {"name": "annB"},
    "mark": {"type": "rule", "strokeWidth": 2.5},
    "encoding": {
     "x": {"field": "ax", "type": "quantitative", "scale": {"domain": [-50, 50]}},
     "y": {"field": "ay", "type": "quantitative", "scale": {"domain": [-0.4, 0.4]}},
     "x2": {"field": "ax2"}, "y2": {"field": "ay2"},
     "color": {"condition": {"test": "indexof(datum.lab, 'R') >= 0", "value": "#000000"}, "value": "#ff0000"}
    }
   },
   {
    "data": {"name": "annB"},
    "transform": [{"calculate": "atan2((datum.ax2 - datum.ax) * 5.18, (datum.ay2 - datum.ay) * 500) * 180 / PI", "as": "ang"}],
    "mark": {"type": "point", "shape": "M0,0L-0.55,1.6L0.55,1.6Z", "filled": true, "opacity": 1, "size": 300, "strokeWidth": 0},
    "encoding": {
     "x": {"field": "ax2", "type": "quantitative", "scale": {"domain": [-50, 50]}},
     "y": {"field": "ay2", "type": "quantitative", "scale": {"domain": [-0.4, 0.4]}},
     "angle": {"field": "ang", "type": "quantitative", "scale": null},
     "color": {"condition": {"test": "indexof(datum.lab, 'R') >= 0", "value": "#000000"}, "value": "#ff0000"}
    }
   },
   {
    "data": {"name": "annB"},
    "mark": {"type": "text", "align": "left", "baseline": "alphabetic"},
    "encoding": {
     "x": {"field": "tx", "type": "quantitative", "scale": {"domain": [-50, 50]}},
     "y": {"field": "ty", "type": "quantitative", "scale": {"domain": [-0.4, 0.4]}},
     "text": {"field": "e"},
     "size": {"condition": {"test": "indexof(datum.lab, 'R') >= 0", "value": 25}, "value": 29},
     "color": {"condition": {"test": "indexof(datum.lab, 'R') >= 0", "value": "#000000"}, "value": "#ff0000"}
    }
   },
   {
    "data": {"name": "annB"},
    "mark": {"type": "text", "align": "left", "baseline": "alphabetic"},
    "encoding": {
     "x": {"field": "sx", "type": "quantitative", "scale": {"domain": [-50, 50]}},
     "y": {"field": "sy", "type": "quantitative", "scale": {"domain": [-0.4, 0.4]}},
     "text": {"field": "sub"},
     "size": {"condition": {"test": "indexof(datum.lab, 'R') >= 0", "value": 17}, "value": 20},
     "color": {"condition": {"test": "indexof(datum.lab, 'R') >= 0", "value": "#000000"}, "value": "#ff0000"}
    }
   },
   {
    "data": {"values": [{"lab": "(B)", "x": -43.6, "y": 0.336}]},
    "mark": {"type": "text", "fontSize": 28, "align": "center", "baseline": "middle", "color": "black"},
    "encoding": {
     "x": {"field": "x", "type": "quantitative", "scale": {"domain": [-50, 50]}},
     "y": {"field": "y", "type": "quantitative", "scale": {"domain": [-0.4, 0.4]}},
     "text": {"field": "lab"}
    }
   }
  ]
 },
 {
  "width": 519, "height": 400,
  "layer": [
   {
    "data": {"name": "pC"},
    "mark": {"type": "line", "strokeWidth": 2.5, "strokeJoin": "round", "interpolate": "catmull-rom"},
    "encoding": {
     "x": {"field": "x", "type": "quantitative", "scale": {"domain": [-40, 40]},
      "axis": {"title": "Electric Field (kV/cm)", "values": [-40,-35,-30,-25,-20,-15,-10,-5,0,5,10,15,20,25,30,35,40], "labelExpr": "datum.value % 10 == 0 ? '' + datum.value : ''", "tickSize": {"condition": {"test": "datum.value % 10 == 0", "value": 6}, "value": 3}, "offset": -200, "labelPadding": 7, "titleX": 233, "titleY": 232.5, "titleBaseline": "middle", "titleAlign": "center"}},
     "y": {"field": "y", "type": "quantitative", "scale": {"domain": [-30, 30]},
      "axis": {"title": "Polarization  (μC/cm²)", "values": [-30,-25,-20,-15,-10,-5,0,5,10,15,20,25,30], "labelExpr": "datum.value % 10 == 0 ? '' + datum.value : ''", "tickSize": {"condition": {"test": "datum.value % 10 == 0", "value": 6}, "value": 3}, "offset": -267.3, "labelPadding": 5, "titleX": -305.8, "titleY": 210.5, "titleBaseline": "middle", "titleAlign": "center", "titleAngle": -90, "titleFontSize": 33}},
     "color": {"field": "t", "type": "nominal", "scale": {"domain": ["10 °C","20 °C","30 °C","40 °C","50 °C","60 °C","70 °C","80 °C","90 °C"], "range": ["#ff0000","#808000","#0000ff","#ff8000","#008000","#ffff00","#ff00ff","#00ff00","#000000"]},
      "legend": {"orient": "none", "legendX": 428, "legendY": 233.5, "title": null, "symbolType": "stroke", "symbolSize": 1600, "symbolStrokeWidth": 3.5, "labelFontSize": 17, "clipHeight": 16, "rowPadding": 6.5, "labelOffset": 4}},
     "order": {"field": "i", "type": "quantitative"}
    }
   },
   {
    "data": {"name": "annC"},
    "mark": {"type": "rule", "strokeWidth": 2.5, "color": "black"},
    "encoding": {
     "x": {"field": "ax", "type": "quantitative", "scale": {"domain": [-40, 40]}},
     "y": {"field": "ay", "type": "quantitative", "scale": {"domain": [-30, 30]}},
     "x2": {"field": "ax2"}, "y2": {"field": "ay2"}
    }
   },
   {
    "data": {"name": "annC"},
    "transform": [{"calculate": "atan2((datum.ax2 - datum.ax) * 6.4875, (datum.ay2 - datum.ay) * 6.6667) * 180 / PI", "as": "ang"}],
    "mark": {"type": "point", "shape": "M0,0L-0.55,1.6L0.55,1.6Z", "filled": true, "opacity": 1, "size": 250, "strokeWidth": 0, "color": "black"},
    "encoding": {
     "x": {"field": "ax2", "type": "quantitative", "scale": {"domain": [-40, 40]}},
     "y": {"field": "ay2", "type": "quantitative", "scale": {"domain": [-30, 30]}},
     "angle": {"field": "ang", "type": "quantitative", "scale": null}
    }
   },
   {
    "data": {"name": "annC"},
    "mark": {"type": "text", "fontSize": 23, "fontWeight": "bold", "align": "left", "baseline": "alphabetic", "color": "black"},
    "encoding": {
     "x": {"field": "tx", "type": "quantitative", "scale": {"domain": [-40, 40]}},
     "y": {"field": "ty", "type": "quantitative", "scale": {"domain": [-30, 30]}},
     "text": {"field": "lab"}
    }
   },
   {
    "data": {"values": [{"lab": "(C)", "x": -35.5, "y": 25.6}]},
    "mark": {"type": "text", "fontSize": 28, "fontWeight": "bold", "align": "center", "baseline": "middle", "color": "black"},
    "encoding": {
     "x": {"field": "x", "type": "quantitative", "scale": {"domain": [-40, 40]}},
     "y": {"field": "y", "type": "quantitative", "scale": {"domain": [-30, 30]}},
     "text": {"field": "lab"}
    }
   }
  ]
 }
]
}
